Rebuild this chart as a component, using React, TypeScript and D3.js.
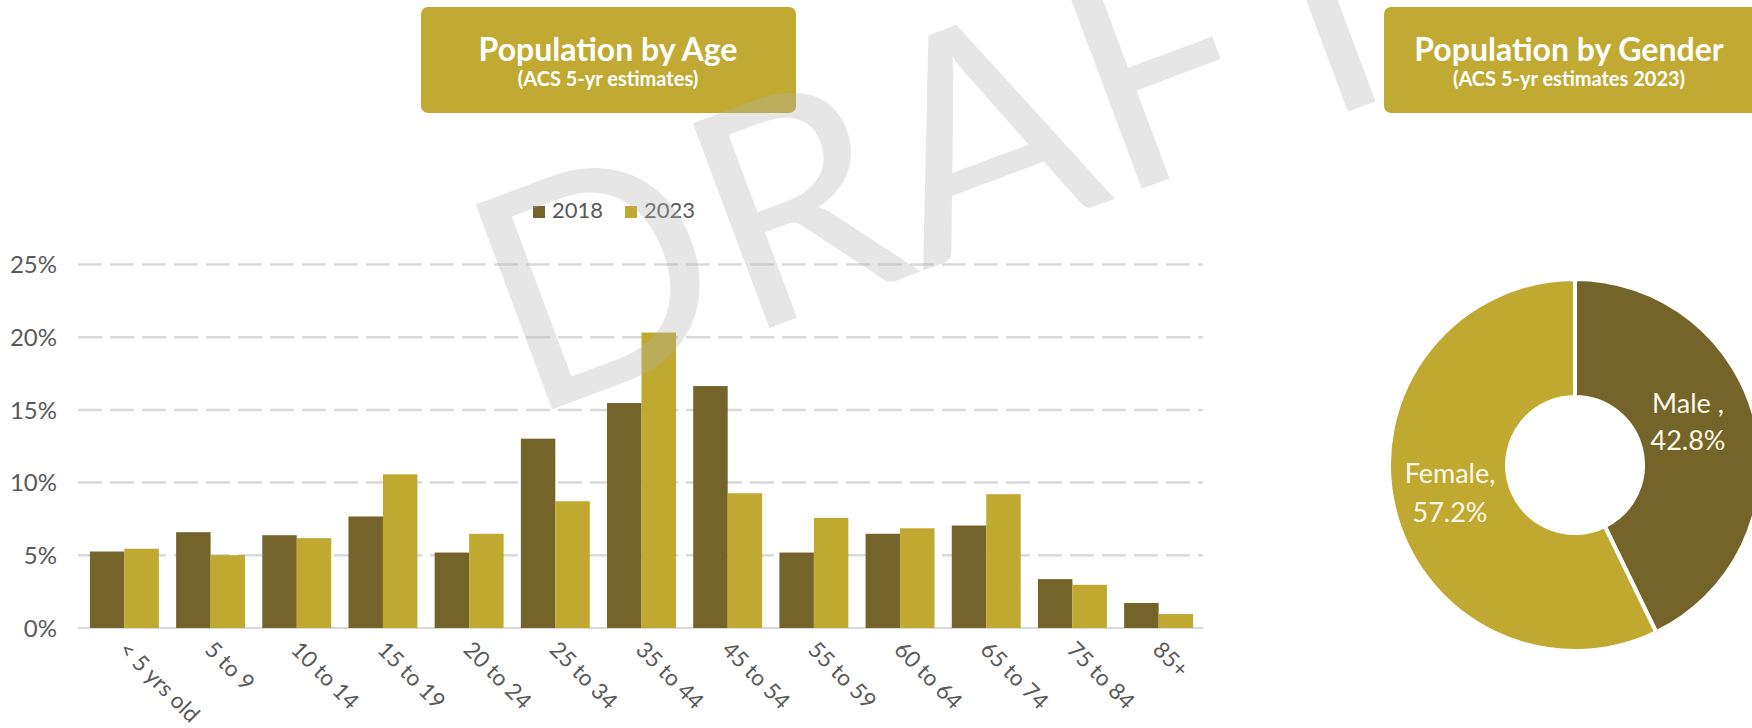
import React from "react";
import * as d3 from "d3";

const categories = ["< 5 yrs old", "5 to 9", "10 to 14", "15 to 19", "20 to 24", "25 to 34", "35 to 44", "45 to 54", "55 to 59", "60 to 64", "65 to 74", "75 to 84", "85+"];
const series = ["2018", "2023"];
const values2018 = [5.26, 6.59, 6.38, 7.67, 5.19, 13.02, 15.47, 16.64, 5.19, 6.48, 7.05, 3.36, 1.72];
const values2023 = [5.45, 5.01, 6.18, 10.57, 6.48, 8.72, 20.32, 9.27, 7.57, 6.86, 9.2, 2.97, 0.96];
const yTicks = [0, 5, 10, 15, 20, 25];
const genderLabels = ["Male ,", "Female,"];
const genderValues = [42.8, 57.2];

const DARK = "#74642A";
const GOLD = "#BFA930";
const BOX = "#C0AA33";
const GRAY_TEXT = "#595959";
const GRID = "#d9d9d9";
const FONT = "Lato, 'Open Sans', sans-serif";

export default function App() {
  const W = 1752, H = 728;
  const x = d3.scaleBand<string>().domain(categories).range([80, 1203]).paddingInner(0.2).paddingOuter(0.115);
  const xs = d3.scaleBand<string>().domain(series).range([0, x.bandwidth()]).padding(0);
  const y = d3.scaleLinear().domain([0, 25]).range([628, 264.5]);
  const seriesValues = [values2018, values2023];
  const seriesColors = [DARK, GOLD];

  const pie = d3.pie<number>().sort(null).value((d) => d).startAngle(0).endAngle(2 * Math.PI);
  const arcs = pie(genderValues);
  const arcGen = d3.arc<d3.PieArcDatum<number>>().innerRadius(68).outerRadius(186);
  const cx = 1575, cy = 465;
  const labelPos = [
    { x: 1688, y1: 413, y2: 450 },
    { x: 1450, y1: 483, y2: 522 },
  ];

  return (
    <svg width={W} height={H} style={{ position: "absolute", left: 0, top: 0, background: "#fff" }} fontFamily={FONT}>
      {/* Title boxes */}
      <rect x={421} y={7} width={375} height={106} rx={7} fill={BOX} />
      <text x={608} y={61} textAnchor="middle" fill="#fff" fontWeight={700} fontSize={32}>Population by Age</text>
      <text x={608} y={86} textAnchor="middle" fill="#fff" fontWeight={700} fontSize={20}>(ACS 5-yr estimates)</text>

      <rect x={1384} y={7} width={400} height={106} rx={7} fill={BOX} />
      <text x={1569} y={61} textAnchor="middle" fill="#fff" fontWeight={700} fontSize={32}>Population by Gender</text>
      <text x={1569} y={86} textAnchor="middle" fill="#fff" fontWeight={700} fontSize={20}>(ACS 5-yr estimates 2023)</text>

      {/* Legend */}
      <rect x={533} y={206} width={12} height={12} fill={DARK} />
      <text x={552} y={218} fill={GRAY_TEXT} fontSize={22}>{series[0]}</text>
      <rect x={625} y={206} width={12} height={12} fill={GOLD} />
      <text x={644} y={218} fill={GRAY_TEXT} fontSize={22}>{series[1]}</text>

      {/* Gridlines and y labels */}
      {yTicks.map((t) => (
        <g key={t}>
          {t === 0 ? (
            <line x1={78} x2={1203} y1={y(t)} y2={y(t)} stroke={GRID} strokeWidth={2} />
          ) : (
            <line x1={78} x2={1203} y1={y(t)} y2={y(t)} stroke={GRID} strokeWidth={2.5} strokeDasharray="24,8" />
          )}
          <text x={57} y={y(t)} dy="0.36em" textAnchor="end" fill={GRAY_TEXT} fontSize={24}>{t + "%"}</text>
        </g>
      ))}

      {/* Bars */}
      {categories.map((c, i) => (
        <g key={c} transform={`translate(${x(c)},0)`}>
          {series.map((s, j) => (
            <rect key={s} x={xs(s)} y={y(seriesValues[j][i])} width={xs.bandwidth()} height={y(0) - y(seriesValues[j][i])} fill={seriesColors[j]} />
          ))}
        </g>
      ))}

      {/* X labels */}
      {categories.map((c) => {
        const px = (x(c) as number) + x.bandwidth() / 2;
        return (
          <text key={c} transform={`translate(${px - 7},651) rotate(45)`} textAnchor="start" fill={GRAY_TEXT} fontSize={22.5}>{c}</text>
        );
      })}

      {/* Donut */}
      <g transform={`translate(${cx},${cy})`}>
        {arcs.map((a, i) => (
          <path key={i} d={arcGen(a) as string} fill={i === 0 ? DARK : GOLD} stroke="#fff" strokeWidth={4} strokeLinejoin="round" />
        ))}
      </g>
      {arcs.map((a, i) => (
        <g key={"l" + i} fill="#fdf9ea" fontSize={27} textAnchor="middle">
          <text x={labelPos[i].x} y={labelPos[i].y1}>{genderLabels[i]}</text>
          <text x={labelPos[i].x} y={labelPos[i].y2}>{genderValues[i].toFixed(1) + "%"}</text>
        </g>
      ))}

      {/* Watermark */}
      <text transform="translate(526,419) rotate(-20.5)" fontSize={305} fill="#b4b4b4" opacity={0.32} fontFamily={FONT}>DRAFT</text>
    </svg>
  );
}
